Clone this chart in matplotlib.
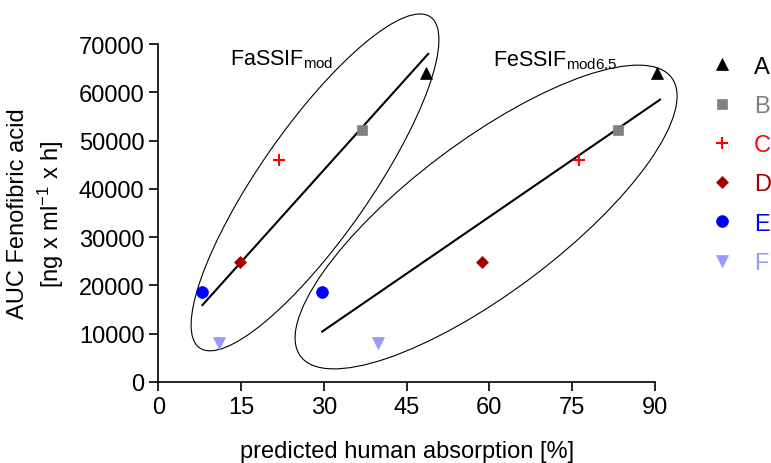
import matplotlib
matplotlib.use('Agg')
import matplotlib.pyplot as plt
from matplotlib.patches import Ellipse
from matplotlib.transforms import ScaledTranslation
from matplotlib.lines import Line2D

plt.rcParams['font.family'] = ['Liberation Sans', 'DejaVu Sans']
plt.rcParams['mathtext.fontset'] = 'custom'
plt.rcParams['mathtext.rm'] = 'Liberation Sans'
plt.rcParams['mathtext.it'] = 'Liberation Sans:italic'
plt.rcParams['mathtext.bf'] = 'Liberation Sans:bold'

# ---- data ----
formulations = ['A', 'B', 'C', 'D', 'E', 'F']
auc = [64000, 52200, 46000, 24900, 18700, 8100]
absorption_fassif = [48.6, 36.9, 21.9, 14.8, 7.9, 11.0]
absorption_fessif = [90.3, 83.3, 76.2, 58.6, 29.6, 39.9]
fit_fassif_x = [8.0, 48.9]
fit_fassif_y = [15900, 68000]
fit_fessif_x = [29.7, 90.9]
fit_fessif_y = [10400, 58500]
x_ticks = [0, 15, 30, 45, 60, 75, 90]
y_ticks = [0, 10000, 20000, 30000, 40000, 50000, 60000, 70000]

# ---- styles ----
colors = ['#000000', '#808080', '#FF0000', '#A00000', '#0000FF', '#9999FF']
markers = ['^', 's', '+', 'D', 'o', 'v']
msizes = [8, 7.5, 9, 6, 8.5, 8]
FS = 17

fig = plt.figure(figsize=(7.71, 4.64), dpi=100)
ax = fig.add_axes([0.2053, 0.1752, 0.6442, 0.7272])
ax.set_xlim(0, 90)
ax.set_ylim(0, 70000)
ax.set_xticks(x_ticks)
ax.set_yticks(y_ticks)
ax.tick_params(direction='out', length=6.5, width=1.2, labelsize=FS, pad=3.5)
for s in ['top', 'right']:
    ax.spines[s].set_visible(False)
for s in ['left', 'bottom']:
    ax.spines[s].set_linewidth(1.2)

# regression lines
ax.plot(fit_fassif_x, fit_fassif_y, color='black', lw=1.5, clip_on=False)
ax.plot(fit_fessif_x, fit_fessif_y, color='black', lw=1.5, clip_on=False)

# points
for i in range(len(formulations)):
    for xs in (absorption_fassif, absorption_fessif):
        ax.plot(xs[i], auc[i], marker=markers[i], color=colors[i], ms=msizes[i],
                mew=1.5 if markers[i] == '+' else 0.5, ls='none', clip_on=False, zorder=3)

# ellipses (sizes in inches, centres in data coords)
def add_ellipse(cx, cy, w_in, h_in, ang):
    tr = fig.dpi_scale_trans + ScaledTranslation(cx, cy, ax.transData)
    e = Ellipse((0, 0), w_in, h_in, angle=ang, transform=tr, fill=False,
                lw=0.8, ec='black', clip_on=False)
    ax.add_patch(e)

add_ellipse(28.4, 41350, 4.035, 1.10, 55.1)
add_ellipse(59.4, 34170, 4.64, 1.514, 36.9)

ax.text(13.0, 65900, r'FaSSIF$_{\mathrm{mod}}$', fontsize=15.5, va='baseline', ha='left')
ax.text(60.7, 65700, r'FeSSIF$_{\mathrm{mod6.5}}$', fontsize=15.5, va='baseline', ha='left')

ax.set_xlabel('predicted human absorption [%]', fontsize=FS, labelpad=16)
ax.set_ylabel('AUC Fenofibric acid\n' + r'[ng x ml$^{-1}$ x h]', fontsize=FS,
              labelpad=9, linespacing=1.3)

handles = [Line2D([], [], marker=m, color=c, ms=s, ls='none',
                  mew=1.5 if m == '+' else 0.5)
           for m, c, s in zip(markers, colors, msizes)]
leg = fig.legend(handles, formulations, loc='upper left', bbox_to_anchor=(0.9208, 0.878),
                 frameon=False, fontsize=FS, handlelength=1.0, handletextpad=0.87,
                 labelspacing=0.73, borderpad=0, borderaxespad=0)
for t, c in zip(leg.get_texts(), colors):
    t.set_color(c)

fig.savefig('out.png', dpi=100)
